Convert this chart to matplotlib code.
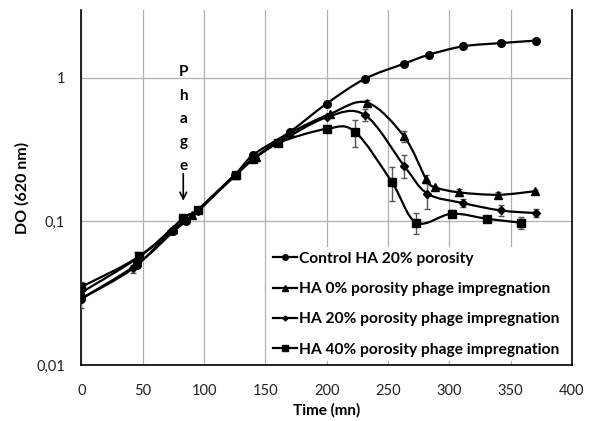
import numpy as np
import matplotlib
matplotlib.use("Agg")
import matplotlib.pyplot as plt
from matplotlib.path import Path
from matplotlib.patches import PathPatch
from matplotlib.lines import Line2D
from matplotlib.ticker import FixedLocator, NullLocator

plt.rcParams['font.family'] = ['Lato', 'DejaVu Sans']

# Control HA 20% porosity (circles)
ctrl_t = [0, 45, 75, 85, 95, 125, 140, 170, 200, 231, 263, 283, 311, 342, 371]
ctrl_do = [0.029, 0.050, 0.085, 0.100, 0.120, 0.21, 0.29, 0.42, 0.66, 0.98, 1.25, 1.44, 1.65, 1.74, 1.81]
ctrl_err = [0.004, 0, 0, 0, 0, 0, 0, 0, 0, 0, 0, 0, 0, 0, 0]

# HA 0% porosity phage impregnation (triangles)
ha0_t = [0, 45, 75, 90, 125, 142, 170, 203, 233, 263, 281, 288, 308, 340, 370]
ha0_do = [0.032, 0.055, 0.088, 0.110, 0.21, 0.28, 0.41, 0.56, 0.67, 0.39, 0.197, 0.173, 0.159, 0.153, 0.162]
ha0_err = [0, 0.006, 0, 0, 0, 0, 0, 0, 0.03, 0.035, 0.012, 0, 0.01, 0.006, 0.004]

# HA 20% porosity phage impregnation (diamonds)
ha20_t = [0, 42, 73, 95, 125, 140, 160, 200, 231, 263, 282, 311, 342, 371]
ha20_do = [0.029, 0.047, 0.085, 0.118, 0.21, 0.27, 0.35, 0.53, 0.55, 0.244, 0.156, 0.134, 0.119, 0.114]
ha20_err = [0, 0.003, 0, 0, 0, 0, 0, 0, 0.05, 0.045, 0.035, 0.008, 0.01, 0.007]

# HA 40% porosity phage impregnation (squares)
ha40_t = [0, 47, 83, 95, 126, 140, 160, 200, 223, 253, 273, 302, 331, 358]
ha40_do = [0.035, 0.057, 0.105, 0.120, 0.21, 0.27, 0.35, 0.44, 0.42, 0.188, 0.098, 0.113, 0.104, 0.098]
ha40_err = [0.003, 0, 0, 0, 0, 0, 0, 0, 0.09, 0.05, 0.017, 0.006, 0.004, 0.009]

labels = ["Control HA 20% porosity",
          "HA 0% porosity phage impregnation",
          "HA 20% porosity phage impregnation",
          "HA 40% porosity phage impregnation"]

x_ticks = [0, 50, 100, 150, 200, 250, 300, 350, 400]
y_ticks = [0.01, 0.1, 1]
y_ticklabels = ["0,01", "0,1", "1"]


def smooth_path(t, v):
    # Excel-like smoothed line: Catmull-Rom bezier in (x, log y)
    p = np.column_stack([np.asarray(t, float), np.log10(v)])
    n = len(p)
    verts = [p[0]]
    codes = [Path.MOVETO]
    for i in range(n - 1):
        p0 = p[i - 1] if i > 0 else p[i]
        p3 = p[i + 2] if i + 2 < n else p[i + 1]
        c1 = p[i] + (p[i + 1] - p0) / 6.0
        c2 = p[i + 1] - (p3 - p[i]) / 6.0
        verts += [c1, c2, p[i + 1]]
        codes += [Path.CURVE4] * 3
    verts = np.array(verts)
    verts[:, 1] = 10 ** verts[:, 1]
    return Path(verts, codes)


fig = plt.figure(figsize=(5.93, 4.21), dpi=100)
ax = fig.add_axes([0.1374, 0.133, 0.8272, 0.843])
ax.set_yscale('log')
ax.set_xlim(0, 400)
ax.set_ylim(0.01, 2.95)

series = [
    (ctrl_t, ctrl_do, ctrl_err, 'o', 5.5),
    (ha0_t, ha0_do, ha0_err, '^', 6),
    (ha20_t, ha20_do, ha20_err, 'D', 4),
    (ha40_t, ha40_do, ha40_err, 's', 5.5),
]

handles = []
for (t, v, e, m, ms), lab in zip(series, labels):
    ax.errorbar(t, v, yerr=e, fmt='none', ecolor='#555555', elinewidth=1,
                capsize=2.5, capthick=1, zorder=3)
    ax.add_patch(PathPatch(smooth_path(t, v), fill=False, edgecolor='black',
                           linewidth=1.6, transform=ax.transData, zorder=4))
    ax.plot(t, v, linestyle='none', marker=m, ms=ms, color='black', zorder=5)
    handles.append(Line2D([], [], color='black', lw=1.6, marker=m, ms=ms - 1.5))

ax.xaxis.set_major_locator(FixedLocator(x_ticks))
ax.yaxis.set_major_locator(FixedLocator(y_ticks))
ax.yaxis.set_minor_locator(NullLocator())
ax.set_yticklabels(y_ticklabels)
ax.tick_params(axis='both', length=0, labelsize=10.5, colors='#222222')
ax.tick_params(axis='y', pad=12)
ax.tick_params(axis='x', pad=14)
ax.grid(True, color='#b0b0b0', linewidth=0.9)
ax.set_axisbelow(True)

ax.spines['top'].set_visible(False)
for s in ['left', 'bottom', 'right']:
    ax.spines[s].set_linewidth(1.2)
    ax.spines[s].set_color('black')

ax.set_xlabel("Time (mn)", fontsize=11, fontweight='bold', labelpad=3)
ax.set_ylabel("DO (620 nm)", fontsize=11.5, fontweight='bold', labelpad=5)

# Phage addition marker
ax.text(83, 1.22, "P\nh\na\ng\ne", ha='center', va='top', fontsize=11,
        fontweight='bold', linespacing=1.85)
ax.annotate("", xy=(83, 0.133), xytext=(83, 0.225),
            arrowprops=dict(arrowstyle='->', color='black', lw=1.2,
                            mutation_scale=12))

leg = ax.legend(handles, labels, loc='lower right', bbox_to_anchor=(1.0, -0.012),
                fontsize=11.2, frameon=True, facecolor='white', edgecolor='none',
                framealpha=1, fancybox=False, handlelength=1.5, handletextpad=0.15,
                labelspacing=1.05, borderpad=0.3)
for txt in leg.get_texts():
    txt.set_fontweight('bold')

fig.savefig('out.png', dpi=100)
